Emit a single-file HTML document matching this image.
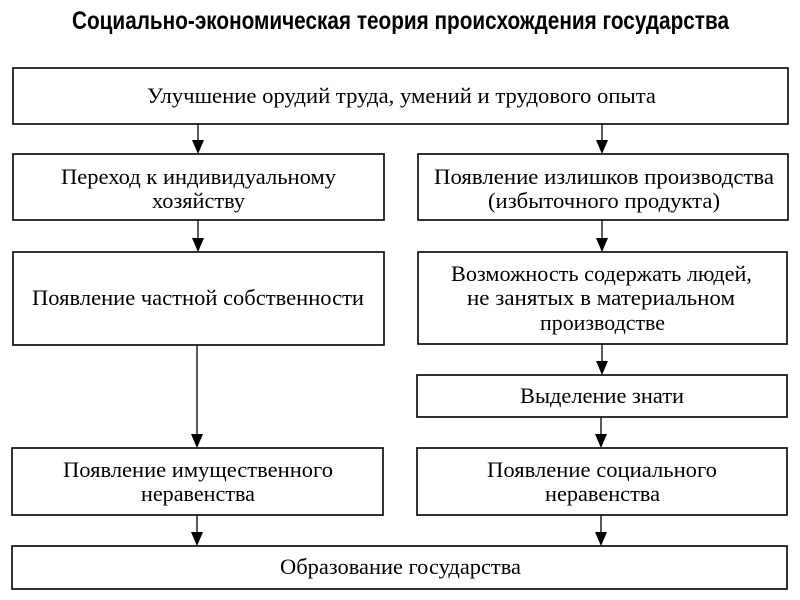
<!DOCTYPE html>
<html lang="ru">
<head>
<meta charset="utf-8">
<title>Социально-экономическая теория происхождения государства</title>
<style>
html,body{margin:0;padding:0;background:#fff;width:800px;height:600px;overflow:hidden}
svg{display:block}
text{font-family:"Liberation Serif","Noto Serif CJK SC",serif;font-size:22px;fill:#000}
.t{font-family:"Liberation Sans","Noto Sans CJK SC",sans-serif;font-weight:bold;font-size:25px;fill:#000}
rect{fill:#fff;stroke:#111;stroke-width:1.7}
line{stroke:#222;stroke-width:1.5}
polygon{fill:#000}
</style>
</head>
<body>
<svg width="800" height="600" viewBox="0 0 800 600" xmlns="http://www.w3.org/2000/svg">
<defs><filter id="b" x="-2%" y="-2%" width="104%" height="104%"><feGaussianBlur stdDeviation="0.35"/></filter></defs>
<g filter="url(#b)">
<text class="t" x="72" y="29" textLength="657" lengthAdjust="spacingAndGlyphs">Социально-экономическая теория происхождения государства</text>

<line x1="198" y1="124" x2="198" y2="146"/><polygon points="192,140 204,140 198,154"/>
<line x1="602" y1="124" x2="602" y2="146"/><polygon points="596,140 608,140 602,154"/>
<line x1="198" y1="220" x2="198" y2="244"/><polygon points="192,238 204,238 198,252"/>
<line x1="602" y1="220" x2="602" y2="244"/><polygon points="596,238 608,238 602,252"/>
<line x1="602" y1="344" x2="602" y2="367"/><polygon points="596,361 608,361 602,375"/>
<line x1="197" y1="345" x2="197" y2="440"/><polygon points="191,434 203,434 197,448"/>
<line x1="601" y1="417" x2="601" y2="440"/><polygon points="595,434 607,434 601,448"/>
<line x1="197" y1="515" x2="197" y2="538"/><polygon points="191,532 203,532 197,546"/>
<line x1="601" y1="515" x2="601" y2="538"/><polygon points="595,532 607,532 601,546"/>

<rect x="13" y="68" width="775" height="56"/>
<rect x="13" y="154" width="371" height="66"/>
<rect x="418" y="154" width="370" height="66"/>
<rect x="13" y="252" width="371" height="93"/>
<rect x="418" y="252" width="369" height="92"/>
<rect x="417" y="375" width="370" height="42"/>
<rect x="12" y="448" width="371" height="67"/>
<rect x="417" y="448" width="370" height="67"/>
<rect x="12" y="546" width="775" height="43"/>

<text x="147" y="103" textLength="509" lengthAdjust="spacingAndGlyphs">Улучшение орудий труда, умений и трудового опыта</text>
<text x="61" y="184" textLength="275" lengthAdjust="spacingAndGlyphs">Переход к индивидуальному</text>
<text x="152" y="208" textLength="93" lengthAdjust="spacingAndGlyphs">хозяйству</text>
<text x="434" y="184" textLength="340" lengthAdjust="spacingAndGlyphs">Появление излишков производства</text>
<text x="488" y="208" textLength="232" lengthAdjust="spacingAndGlyphs">(избыточного продукта)</text>
<text x="32" y="305" textLength="332" lengthAdjust="spacingAndGlyphs">Появление частной собственности</text>
<text x="451" y="281" textLength="301" lengthAdjust="spacingAndGlyphs">Возможность содержать людей,</text>
<text x="467" y="305" textLength="268" lengthAdjust="spacingAndGlyphs">не занятых в материальном</text>
<text x="540" y="330" textLength="125" lengthAdjust="spacingAndGlyphs">производстве</text>
<text x="520" y="403" textLength="164" lengthAdjust="spacingAndGlyphs">Выделение знати</text>
<text x="63" y="477" textLength="270" lengthAdjust="spacingAndGlyphs">Появление имущественного</text>
<text x="141" y="501" textLength="114" lengthAdjust="spacingAndGlyphs">неравенства</text>
<text x="487" y="477" textLength="230" lengthAdjust="spacingAndGlyphs">Появление социального</text>
<text x="545" y="501" textLength="115" lengthAdjust="spacingAndGlyphs">неравенства</text>
<text x="280" y="574" textLength="241" lengthAdjust="spacingAndGlyphs">Образование государства</text>
</g>
</svg>
</body>
</html>
